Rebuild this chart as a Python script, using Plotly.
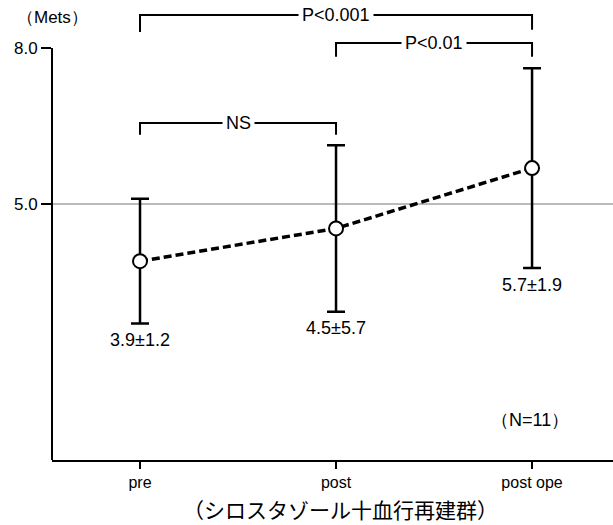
import plotly.graph_objects as go

# Exercise capacity (Mets) before/after treatment
categories = ["pre", "post", "post ope"]
means = [3.9, 4.53, 5.69]
errors = [1.2, 1.6, 1.92]
value_labels = ["3.9±1.2", "4.5±5.7", "5.7±1.9"]
y_ticks = [5.0, 8.0]
y_tick_labels = ["5.0", "8.0"]

# significance brackets: (from index, to index, bar level, left drop, right drop, text)
brackets = [
    (0, 2, 8.635, 8.31, 8.35, "P<0.001"),
    (1, 2, 8.096, 7.83, 7.83, "P<0.01"),
    (0, 1, 6.56, 6.33, 6.33, "NS"),
]

xpos = list(range(len(categories)))
FONT = "Arial, Liberation Sans, sans-serif"
YMIN, YMAX = 0.077, 8.923

fig = go.Figure()

# reference line at 5.0 Mets
fig.add_shape(type="line", xref="paper", yref="y", x0=0, x1=1, y0=5.0, y1=5.0,
              line=dict(color="#777777", width=1), layer="below")

fig.add_trace(go.Scatter(
    x=xpos, y=means,
    mode="lines+markers",
    line=dict(color="black", width=3.5, dash="8px,4px"),
    marker=dict(symbol="circle", size=14, color="white",
                line=dict(color="black", width=2)),
    error_y=dict(type="data", array=errors, visible=True,
                 color="black", thickness=2.5, width=9),
    showlegend=False,
    hoverinfo="skip",
))

# y axis line, ending at the 8.0 tick
fig.add_shape(type="line", xref="paper", yref="y", x0=0, x1=0, y0=YMIN, y1=8.0,
              line=dict(color="black", width=2))

# value labels under each error bar
for x, m, e, t in zip(xpos, means, errors, value_labels):
    fig.add_annotation(x=x, y=m - e - 0.32, text=t, showarrow=False,
                       font=dict(family=FONT, size=18, color="black"),
                       xanchor="center", yanchor="middle")

# significance brackets
for a, b, lvl, dl, dr, txt in brackets:
    fig.add_shape(type="path",
                  path=f"M {a},{dl} L {a},{lvl} L {b},{lvl} L {b},{dr}",
                  xref="x", yref="y", line=dict(color="black", width=2))
    fig.add_annotation(x=(a + b) / 2, y=lvl, text=txt, showarrow=False,
                       font=dict(family=FONT, size=18, color="black"),
                       bgcolor="white", borderpad=3,
                       xanchor="center", yanchor="middle")

fig.add_annotation(x=1.99, y=0.85, text="（N=11）", showarrow=False,
                   font=dict(family=FONT, size=18, color="black"))
fig.add_annotation(xref="paper", yref="paper", x=0, y=0.961, text="（Mets）",
                   showarrow=False, xanchor="center", yanchor="middle",
                   font=dict(family=FONT, size=17, color="black"))
fig.add_annotation(xref="paper", yref="paper", x=0.515, y=-0.107,
                   text="（シロスタゾール十血行再建群）", showarrow=False,
                   xanchor="center", yanchor="middle",
                   font=dict(family="Noto Sans CJK JP", size=21, color="black"))

fig.update_layout(
    width=613, height=525,
    margin=dict(l=52, r=0, t=0, b=65),
    plot_bgcolor="white", paper_bgcolor="white",
    xaxis=dict(range=[-0.449, 2.413], tickvals=xpos, ticktext=categories,
               showline=True, linecolor="black", linewidth=2,
               ticks="outside", ticklen=7, tickwidth=2, tickcolor="black",
               showgrid=False, zeroline=False,
               tickfont=dict(family=FONT, size=16, color="black")),
    yaxis=dict(range=[YMIN, YMAX], tickvals=y_ticks, ticktext=y_tick_labels,
               showline=False, ticks="outside", ticklen=10, tickwidth=2,
               tickcolor="black", showgrid=False, zeroline=False,
               tickfont=dict(family=FONT, size=17, color="black")),
)

fig.write_html("out.html")
